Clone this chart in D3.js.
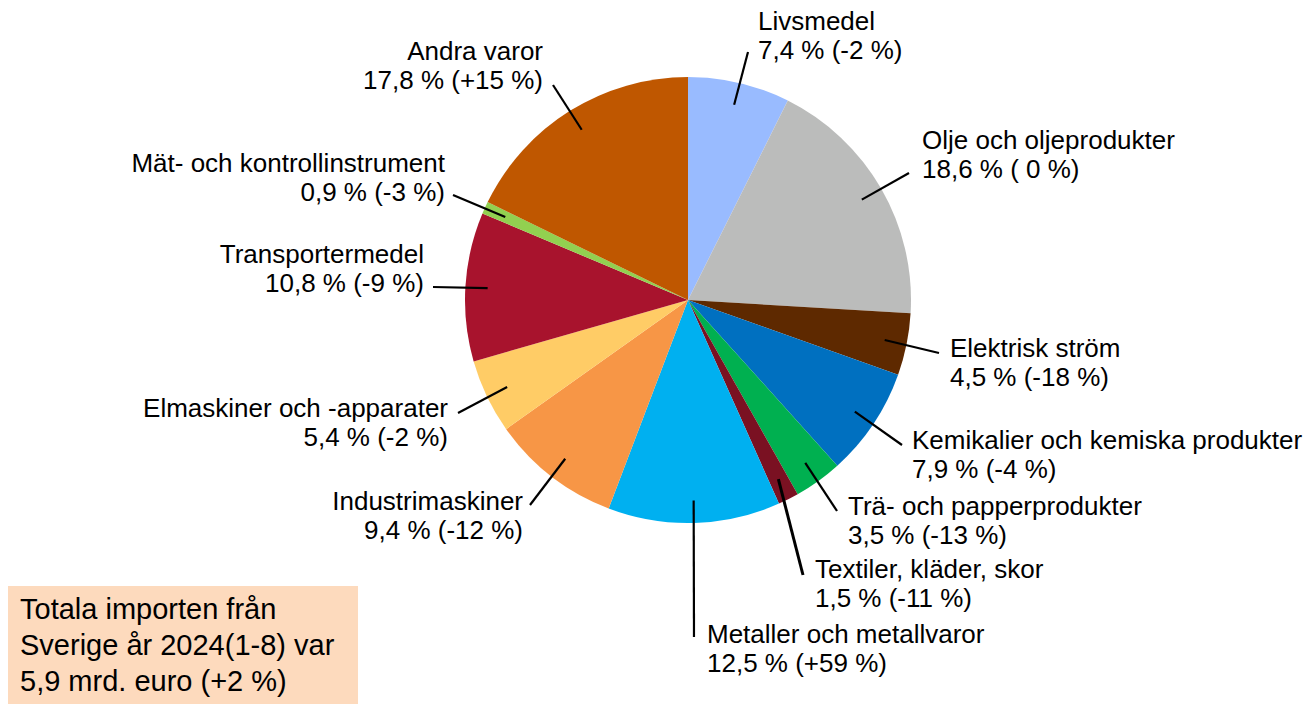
<!DOCTYPE html>
<html>
<head>
<meta charset="utf-8">
<script src="https://cdn.jsdelivr.net/npm/d3@7"></script>
<style>
  body { margin: 0; background: #fff; }
  svg text { font-family: "Liberation Sans", Arial, sans-serif; fill: #000; }
</style>
</head>
<body>
<svg id="chart" width="1310" height="704"></svg>
<script>
// data
const categories = ["Livsmedel", "Olje och oljeprodukter", "Elektrisk ström",
  "Kemikalier och kemiska produkter", "Trä- och papperprodukter", "Textiler, kläder, skor",
  "Metaller och metallvaror", "Industrimaskiner", "Elmaskiner och -apparater",
  "Transportermedel", "Mät- och kontrollinstrument", "Andra varor"];
const shares = [7.4, 18.6, 4.5, 7.9, 3.5, 1.5, 12.5, 9.4, 5.4, 10.8, 0.9, 17.8];
const changes = ["-2 %", " 0 %", "-18 %", "-4 %", "-13 %", "-11 %", "+59 %", "-12 %", "-2 %", "-9 %", "-3 %", "+15 %"];
const colors = ["#99BBFF", "#BBBCBB", "#5E2900", "#0070C0", "#00B050", "#7A1122",
  "#00B0F0", "#F79646", "#FFCC66", "#A8132D", "#92D050", "#BF5700"];
const totalText = ["Totala importen från", "Sverige år 2024(1-8) var", "5,9 mrd. euro (+2 %)"];

// label layout: text x, first baseline, anchor, leader outer end
const labelPos = [
  {x: 758, y: 30, a: "start", lx: 748, ly: 52},
  {x: 922, y: 149, a: "start", lx: 909, ly: 173},
  {x: 950, y: 357, a: "start", lx: 939, ly: 353},
  {x: 912, y: 449, a: "start", lx: 902, ly: 445},
  {x: 848, y: 515, a: "start", lx: 837, ly: 511},
  {x: 815, y: 578, a: "start", lx: 803, ly: 575},
  {x: 707, y: 643, a: "start", lx: 694, ly: 637},
  {x: 523, y: 510, a: "end", lx: 530, ly: 505},
  {x: 448, y: 417, a: "end", lx: 458, ly: 413},
  {x: 424, y: 263, a: "end", lx: 433, ly: 287},
  {x: 445, y: 172, a: "end", lx: 453, ly: 195},
  {x: 543, y: 60, a: "end", lx: 553, ly: 85}
];

const cx = 688, cy = 300, radius = 223;
const svg = d3.select("#chart");
const g = svg.append("g").attr("transform", "translate(" + cx + "," + cy + ")");

const pie = d3.pie().sort(null).value(d => d);
const arcs = pie(shares);
const arc = d3.arc().innerRadius(0).outerRadius(radius);
const leaderArc = d3.arc().innerRadius(radius * 0.9).outerRadius(radius * 0.9);

g.selectAll("path.slice")
  .data(arcs)
  .enter().append("path")
  .attr("class", "slice")
  .attr("d", arc)
  .attr("fill", (d, i) => colors[i]);

// leaders
g.selectAll("line.leader")
  .data(arcs)
  .enter().append("line")
  .attr("class", "leader")
  .attr("x1", d => leaderArc.centroid(d)[0])
  .attr("y1", d => leaderArc.centroid(d)[1])
  .attr("x2", (d, i) => labelPos[i].lx - cx)
  .attr("y2", (d, i) => labelPos[i].ly - cy)
  .attr("stroke", "#000")
  .attr("stroke-width", (d, i) => i === 5 ? 3 : 2.2);

// labels
const fmt = v => v.toFixed(1).replace(".", ",");
const labels = svg.selectAll("text.label")
  .data(categories)
  .enter().append("text")
  .attr("class", "label")
  .attr("text-anchor", (d, i) => labelPos[i].a)
  .style("font-size", "26px");
labels.append("tspan")
  .attr("x", (d, i) => labelPos[i].x)
  .attr("y", (d, i) => labelPos[i].y)
  .text(d => d);
labels.append("tspan")
  .attr("x", (d, i) => labelPos[i].x)
  .attr("y", (d, i) => labelPos[i].y + 29)
  .text((d, i) => fmt(shares[i]) + " % (" + changes[i] + ")");

/* total box */
svg.append("rect")
  .attr("x", 8).attr("y", 586)
  .attr("width", 350).attr("height", 118)
  .attr("fill", "#FDDABD");
svg.append("g").selectAll("text")
  .data(totalText)
  .enter().append("text")
  .attr("x", 20)
  .attr("y", (d, i) => 619 + i * 36)
  .style("font-size", "29px")
  .text(d => d);
</script>
</body>
</html>
